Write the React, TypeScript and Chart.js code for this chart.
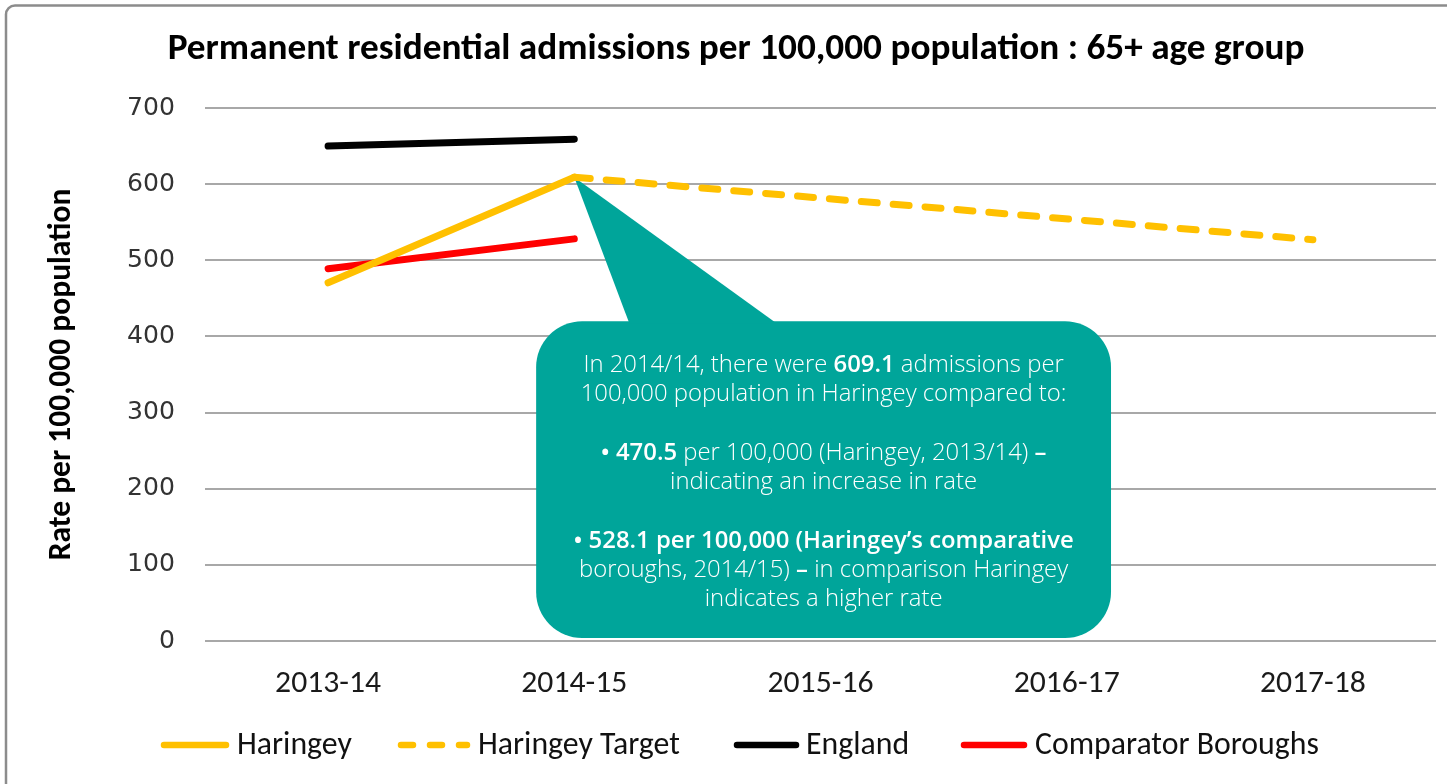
import React, { useEffect, useRef } from "react";
import { Chart, registerables } from "chart.js";

Chart.register(...registerables);

// ---------- data ----------
const categories = ["2013-14", "2014-15", "2015-16", "2016-17", "2017-18"];
const haringey = [470.5, 609.1, null, null, null];
const haringeyTarget = [null, 609.1, null, null, 527];
const england = [650, 659, null, null, null];
const comparatorBoroughs = [489, 528.1, null, null, null];
const yMin = 0;
const yMax = 700;
const yStep = 100;

const seriesLabels = ["Haringey", "Haringey Target", "England", "Comparator Boroughs"];
const titleText = "Permanent residential admissions per 100,000 population : 65+ age group";
const yAxisTitle = "Rate per 100,000 population";

// callout text: [text, bold]
const calloutLines: [string, boolean][][] = [
  [["In 2014/14, there were ", false], ["609.1", true], [" admissions per", false]],
  [["100,000 population in Haringey compared to:", false]],
  [],
  [["• ", true], ["470.5", true], [" per 100,000 (Haringey, 2013/14) ", false], ["–", true]],
  [["indicating an increase in rate", false]],
  [],
  [["• 528.1 per 100,000 (Haringey’s comparative", true]],
  [["boroughs, 2014/15) ", false], ["–", true], [" in comparison Haringey", false]],
  [["indicates a higher rate", false]],
];

// ---------- styles ----------
const GOLD = "#FFC000";
const TEAL = "#00A59A";
const NARROW = "Carlito, 'Liberation Sans Narrow', 'Liberation Sans', sans-serif";
const GOTHIC = "'Open Sans', 'Lato', sans-serif";
const TICKY = "'DejaVu Sans', sans-serif";

export default function App() {
  const ref = useRef<HTMLCanvasElement>(null);

  useEffect(() => {
    const canvas = ref.current!;
    const mctx = canvas.getContext("2d")!;
    const fit = (text: string, weight: string, family: string, target: number) => {
      mctx.font = `${weight} 100px ${family}`;
      return (100 * target) / mctx.measureText(text).width;
    };

    const titleSize = fit(titleText, "bold", NARROW, 1137);
    const yTitleSize = fit(yAxisTitle, "bold", NARROW, 372);
    const xTickSize = fit("2013-14", "normal", NARROW, 106);
    const yTickSize = fit("700", "normal", TICKY, 48);
    const legendSize = fit("Comparator Boroughs", "normal", NARROW, 284);
    const calloutSize = fit("100,000 population in Haringey compared to:", "300", GOTHIC, 486);

    const padLeft = 62 - (yTitleSize * 1.2) / 2;
    const xAxisH = 60;

    const bgPlugin = {
      id: "bgFrame",
      beforeDraw(chart: any) {
        const c = chart.ctx;
        c.save();
        c.fillStyle = "#fff";
        c.fillRect(0, 0, chart.width, chart.height);
        c.strokeStyle = "#8c8c8c";
        c.lineWidth = 2.5;
        c.beginPath();
        c.moveTo(6, 820);
        c.lineTo(6, 14);
        c.arcTo(6, 5.5, 15, 5.5, 9);
        c.lineTo(1500, 5.5);
        c.stroke();
        c.restore();
      },
    };

    const calloutPlugin = {
      id: "callout",
      beforeDatasetsDraw(chart: any) {
        const c = chart.ctx;
        const x = chart.scales.x;
        const y = chart.scales.y;
        const tipX = x.getPixelForValue(1);
        const tipY = y.getPixelForValue(haringey[1] as number);
        const l = x.getPixelForValue(0.845);
        const r = x.getPixelForValue(3.18);
        const t = y.getPixelForValue(420);
        const b = y.getPixelForValue(4);
        const w = r - l;
        c.save();
        c.fillStyle = TEAL;
        c.beginPath();
        c.roundRect(l, t, w, b - t, 46);
        c.fill();
        c.beginPath();
        c.moveTo(l + w * 0.162, t + 2);
        c.lineTo(tipX, tipY);
        c.lineTo(l + w * 0.418, t + 2);
        c.closePath();
        c.fill();

        // text
        const cx = (l + r) / 2;
        const lineH = 29;
        const gap = 30;
        let ty = t + 44;
        c.fillStyle = "#fff";
        c.textBaseline = "middle";
        c.textAlign = "left";
        for (const line of calloutLines) {
          if (line.length === 0) {
            ty += gap;
            continue;
          }
          let total = 0;
          const widths: number[] = [];
          for (const [txt, bold] of line) {
            c.font = `${bold ? "600" : "300"} ${calloutSize}px ${GOTHIC}`;
            const wd = c.measureText(txt).width;
            widths.push(wd);
            total += wd;
          }
          let sx = cx - total / 2;
          line.forEach(([txt, bold], i) => {
            c.font = `${bold ? "600" : "300"} ${calloutSize}px ${GOTHIC}`;
            c.fillText(txt, sx, ty);
            sx += widths[i];
          });
          ty += lineH;
        }
        c.restore();
      },
    };

    const legendLayout = [
      { x0: 161, x1: 229, tx: 237, color: GOLD, dash: [] as number[] },
      { x0: 398, x1: 470, tx: 478, color: GOLD, dash: [12, 17] },
      { x0: 734, x1: 799, tx: 806, color: "#000", dash: [] as number[] },
      { x0: 961, x1: 1027, tx: 1035, color: "#FF0000", dash: [] as number[] },
    ];

    const overlayPlugin = {
      id: "overlay",
      afterDraw(chart: any) {
        const c = chart.ctx;
        c.save();
        // title
        c.fillStyle = "#000";
        c.font = `bold ${titleSize}px ${NARROW}`;
        c.textAlign = "center";
        c.textBaseline = "middle";
        c.fillText(titleText, 736, 50);
        // legend
        const ly = 745;
        c.font = `${legendSize}px ${NARROW}`;
        c.textAlign = "left";
        legendLayout.forEach((it, i) => {
          c.strokeStyle = it.color;
          c.lineWidth = 6.5;
          c.lineCap = "round";
          c.setLineDash(it.dash);
          c.beginPath();
          c.moveTo(it.x0 + 3, ly);
          c.lineTo(it.x1 - 3, ly);
          c.stroke();
          c.setLineDash([]);
          c.fillStyle = "#111";
          c.fillText(seriesLabels[i], it.tx, ly + 1);
        });
        c.restore();
      },
    };

    const common = {
      borderWidth: 7,
      borderCapStyle: "round" as const,
      borderJoinStyle: "round" as const,
      pointRadius: 0,
      pointHoverRadius: 0,
      tension: 0,
      fill: false,
    };

    const chart = new Chart(canvas, {
      type: "line",
      data: {
        labels: categories,
        datasets: [
          { ...common, label: seriesLabels[1], data: haringeyTarget, borderColor: GOLD, borderDash: [16, 16], spanGaps: true, order: 4 },
          { ...common, label: seriesLabels[2], data: england, borderColor: "#000", order: 3 },
          { ...common, label: seriesLabels[3], data: comparatorBoroughs, borderColor: "#FF0000", order: 2 },
          { ...common, label: seriesLabels[0], data: haringey, borderColor: GOLD, order: 1 },
        ],
      },
      options: {
        responsive: false,
        animation: false,
        events: [],
        layout: { padding: { top: 108, left: padLeft, right: 11, bottom: 784 - 641 - xAxisH } },
        plugins: {
          legend: { display: false },
          title: { display: false },
          tooltip: { enabled: false },
        },
        scales: {
          x: {
            offset: true,
            grid: { display: false, drawTicks: false },
            border: { display: false },
            ticks: {
              color: "#1a1a1a",
              padding: 24,
              font: { family: NARROW, size: xTickSize },
              maxRotation: 0,
            },
            afterFit(scale: any) {
              scale.height = xAxisH;
            },
          },
          y: {
            min: yMin,
            max: yMax,
            ticks: {
              stepSize: yStep,
              color: "#333",
              padding: 30,
              font: { family: TICKY, size: yTickSize },
            },
            grid: { color: "#a8a8a8", lineWidth: 2, drawTicks: false },
            border: { display: false },
            title: {
              display: true,
              text: yAxisTitle,
              color: "#000",
              padding: 0,
              font: { family: NARROW, size: yTitleSize, weight: "bold" },
            },
            afterFit(scale: any) {
              scale.width = 205 - padLeft;
            },
          },
        },
      },
      plugins: [bgPlugin, calloutPlugin, overlayPlugin],
    });

    return () => chart.destroy();
  }, []);

  return (
    <canvas
      ref={ref}
      width={1447}
      height={784}
      style={{ position: "fixed", left: 0, top: 0, display: "block" }}
    />
  );
}
